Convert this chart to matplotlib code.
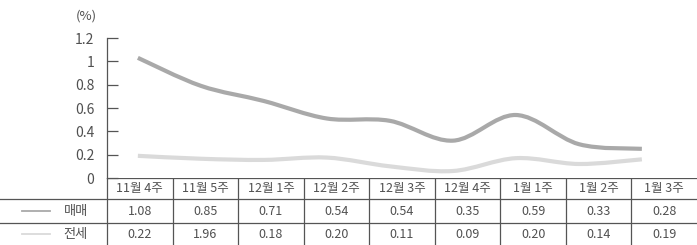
import numpy as np
import matplotlib
matplotlib.use("Agg")
import matplotlib.pyplot as plt
from matplotlib.path import Path
from matplotlib.patches import PathPatch

plt.rcParams['font.family'] = ['Noto Sans CJK KR', 'DejaVu Sans']

weeks = ['11월 4주', '11월 5주', '12월 1주', '12월 2주', '12월 3주',
         '12월 4주', '1월 1주', '1월 2주', '1월 3주']
# values as drawn in the chart
sale_line = [1.03, 0.79, 0.66, 0.51, 0.49, 0.32, 0.54, 0.29, 0.25]
rent_line = [0.19, 0.165, 0.155, 0.175, 0.10, 0.06, 0.17, 0.12, 0.16]
# values printed in the table
sale_tab = ['1.08', '0.85', '0.71', '0.54', '0.54', '0.35', '0.59', '0.33', '0.28']
rent_tab = ['0.22', '1.96', '0.18', '0.20', '0.11', '0.09', '0.20', '0.14', '0.19']
series_names = ['매매', '전세']
yticks = [0, 0.2, 0.4, 0.6, 0.8, 1, 1.2]
ytick_labels = ['0', '0.2', '0.4', '0.6', '0.8', '1', '1.2']

sale_color = '#a9a9a9'
rent_color = '#dadada'
txt = '#505050'
grid_c = '#555555'

W, H = 697, 245
fig = plt.figure(figsize=(W / 100, H / 100), dpi=100)


def smooth_path(xs, ys):
    # Catmull-Rom through the points, as cubic bezier segments
    pts = np.column_stack([xs, ys]).astype(float)
    verts = [pts[0]]
    codes = [Path.MOVETO]
    n = len(pts)
    for i in range(n - 1):
        p0 = pts[max(i - 1, 0)]
        p1 = pts[i]
        p2 = pts[i + 1]
        p3 = pts[min(i + 2, n - 1)]
        c1 = p1 + (p2 - p0) / 6
        c2 = p2 - (p3 - p1) / 6
        verts += [c1, c2, p2]
        codes += [Path.CURVE4] * 3
    return Path(verts, codes)


# chart area
ax = fig.add_axes([107 / W, (H - 178) / H, (W - 107) / W, 140 / H])
x = np.arange(len(weeks))
ax.set_xlim(-0.49, 8.875)
ax.set_ylim(0, 1.2)
for vals, col in [(rent_line, rent_color), (sale_line, sale_color)]:
    ax.add_patch(PathPatch(smooth_path(x, vals), facecolor='none',
                           edgecolor=col, lw=3.0, capstyle='butt'))
for s in ['top', 'right', 'bottom']:
    ax.spines[s].set_visible(False)
ax.spines['left'].set_color(grid_c)
ax.spines['left'].set_linewidth(0.9)
ax.set_xticks([])
ax.set_yticks(yticks)
ax.set_yticklabels(ytick_labels)
ax.tick_params(axis='y', direction='in', length=8, width=0.9, color=grid_c,
               pad=9, labelsize=10, labelcolor=txt)
fig.text(86 / W, 1 - 16 / H, '(%)', ha='center', va='center', fontsize=9.5, color=txt)

# table
tx = fig.add_axes([0, 0, 1, (H - 178) / H])
tx.set_xlim(0, W)
tx.set_ylim(H - 178, 0)
tx.axis('off')
left = 107
cw = (W - left) / len(weeks)
rows = [0, 21, 45, 67]
lw = 0.9
tx.plot([left, W], [rows[0], rows[0]], color=grid_c, lw=lw)
for r in rows[1:3]:
    tx.plot([0, W], [r, r], color=grid_c, lw=lw)
for k in range(len(weeks)):
    xl = left + cw * k
    tx.plot([xl, xl], [0, rows[3]], color=grid_c, lw=lw)
for k, w in enumerate(weeks):
    xc = left + cw * (k + 0.5)
    tx.text(xc, (rows[0] + rows[1]) / 2, w, ha='center', va='center',
            fontsize=9, color=txt)
    tx.text(xc, (rows[1] + rows[2]) / 2, sale_tab[k], ha='center', va='center',
            fontsize=9, color=txt)
    tx.text(xc, (rows[2] + rows[3]) / 2, rent_tab[k], ha='center', va='center',
            fontsize=9, color=txt)
for j, (name, col) in enumerate(zip(series_names, [sale_color, rent_color])):
    yc = (rows[j + 1] + rows[j + 2]) / 2
    tx.plot([22, 50], [yc, yc], color=col, lw=1.3)
    tx.text(88, yc, name, ha='right', va='center', fontsize=9.5, color=txt)

fig.savefig('out.png', dpi=100)
